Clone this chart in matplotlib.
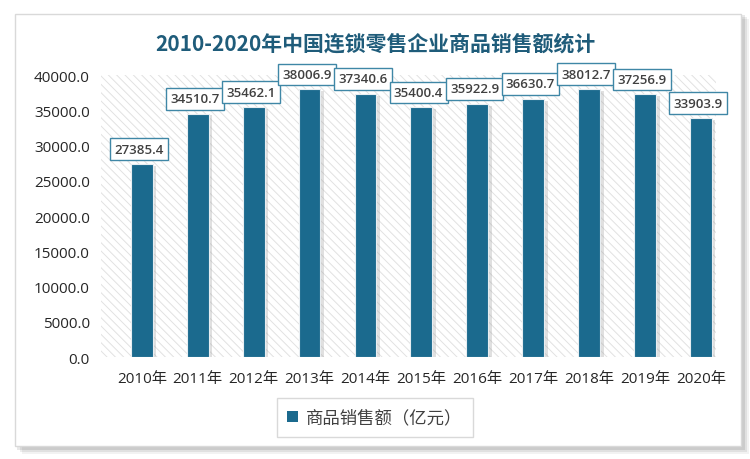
import matplotlib.pyplot as plt
from matplotlib.patches import Rectangle

plt.rcParams['font.family'] = ['Open Sans', 'Noto Sans CJK SC', 'DejaVu Sans']

years = ['2010年', '2011年', '2012年', '2013年', '2014年', '2015年',
         '2016年', '2017年', '2018年', '2019年', '2020年']
sales = [27385.4, 34510.7, 35462.1, 38006.9, 37340.6, 35400.4,
         35922.9, 36630.7, 38012.7, 37256.9, 33903.9]
yticks = [0, 5000, 10000, 15000, 20000, 25000, 30000, 35000, 40000]

bar_color = '#1b6a8e'
title_color = '#1f5c7a'

fig = plt.figure(figsize=(7.5, 4.6), dpi=100)
fig.patch.set_facecolor('white')

# card with soft shadow
for i, a in enumerate([0.05, 0.07, 0.09]):
    off = (3 - i) * 0.003
    fig.patches.append(Rectangle((0.02 + off, 0.025 - off * 1.5), 0.97, 0.945,
                                 transform=fig.transFigure, facecolor='#000000',
                                 alpha=a, edgecolor='none', zorder=0))
fig.patches.append(Rectangle((0.02, 0.028), 0.968, 0.94, transform=fig.transFigure,
                             facecolor='white', edgecolor='#d9d9d9', lw=1, zorder=1))

ax = fig.add_axes([0.1347, 0.2217, 0.82, 0.6130])
ax.set_facecolor('none')
ax.set_zorder(2)

plt.rcParams['hatch.color'] = '#e2e2e2'
plt.rcParams['hatch.linewidth'] = 0.7
ax.add_patch(Rectangle((0, 0), 1, 1, transform=ax.transAxes, facecolor='white',
                       edgecolor='#e2e2e2', hatch='\\\\\\\\', lw=0, zorder=0))

x = list(range(len(years)))
# bar shadows
ax.bar([v + 0.05 for v in x], [s - 250 for s in sales], width=0.42, bottom=0,
       color='#9a9a9a', alpha=0.3, zorder=1)
ax.bar(x, sales, width=0.39, color=bar_color, edgecolor='#e8eef2', lw=0.8, zorder=2)

for xi, s in zip(x, sales):
    ax.annotate(f'{s:.1f}', (xi, s), xytext=(-2, 6), textcoords='offset points',
                ha='center', va='bottom', fontsize=9.5, fontweight='semibold', color='#404040',
                bbox=dict(boxstyle='square,pad=0.32', fc='white', ec='#3f87a6', lw=1),
                zorder=4)

ax.set_xlim(-0.73, 10.27)
ax.set_ylim(0, 40000)
ax.set_yticks(yticks)
ax.set_yticklabels([f'{v:.1f}' for v in yticks], fontsize=11, color='#262626')
ax.set_xticks(x)
ax.set_xticklabels(years, fontsize=11, color='#262626')
ax.tick_params(length=0, pad=8)
ax.tick_params(axis='x', pad=10)
for sp in ax.spines.values():
    sp.set_visible(False)

fig.text(0.5, 0.905, '2010-2020年中国连锁零售企业商品销售额统计', ha='center', va='center',
         fontsize=15, fontweight='bold', color=title_color,
         family=['Noto Sans CJK SC', 'DejaVu Sans'])

leg_handle = Rectangle((0, 0), 1, 1, facecolor=bar_color)
leg = fig.legend([leg_handle], ['商品销售额（亿元）'], loc='center', bbox_to_anchor=(0.5, 0.09),
                 frameon=True, fancybox=False, edgecolor='#d0d0d0',
                 handlelength=0.6, handleheight=0.6, borderpad=0.6, handletextpad=0.5,
                 borderaxespad=0, prop={'family': ['Noto Sans CJK SC'], 'size': 12.5})
leg.get_frame().set_linewidth(1)
for t in leg.get_texts():
    t.set_color('#404040')

fig.savefig('out.png', dpi=100)
